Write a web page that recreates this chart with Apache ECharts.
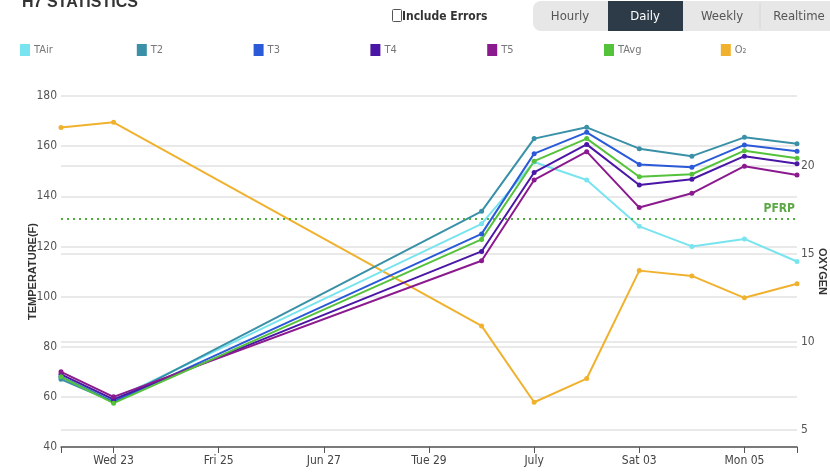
<!DOCTYPE html>
<html>
<head>
<meta charset="utf-8">
<title>H7 Statistics</title>
<script src="https://cdn.jsdelivr.net/npm/echarts@6/dist/echarts.min.js"></script>
<style>
  html, body { margin: 0; padding: 0; background: #fff; }
  #chart { width: 830px; height: 475px; }
</style>
</head>
<body>
<div id="chart"></div>
<script>
// daily readings
const categories = ['Tue 22', 'Wed 23', 'Thu 24', 'Fri 25', 'Sat 26', 'Jun 27', 'Mon 28', 'Tue 29',
  'Wed 30', 'July', 'Fri 02', 'Sat 03', 'Sun 04', 'Mon 05', 'Tue 06'];
const tAir = [68, 59, null, null, null, null, null, null, 129, 153.7, 146.5, 128, 120, 123, 114];
const t2 = [67, 58, null, null, null, null, null, null, 134, 163, 167.5, 159, 156, 163.5, 161];
const t3 = [68, 58, null, null, null, null, null, null, 125, 157, 165.5, 152.7, 151.6, 160.5, 158];
const t4 = [69, 59, null, null, null, null, null, null, 118, 149.5, 160.7, 144.5, 146.8, 156, 153];
const t5 = [70, 60, null, null, null, null, null, null, 114.3, 146.5, 157.8, 135.5, 141.2, 152, 148.5];
const tAvg = [68, 57.5, null, null, null, null, null, null, 122.8, 154, 163, 147.8, 148.8, 158.2, 155.2];
const o2 = [22.2, 22.5, null, null, null, null, null, null, 10.9, 6.55, 7.9, 14.05, 13.75, 12.5, 13.3];
const pfrp = 131;
const oxygenTicks = [5, 10, 15, 20];

const narrow = '"Liberation Sans Narrow", "DejaVu Sans Condensed", sans-serif';

const seriesDefs = [
  { name: 'TAir', data: tAir, color: '#78e4ef' },
  { name: 'T2', data: t2, color: '#3a91a7' },
  { name: 'T3', data: t3, color: '#2a5ad8' },
  { name: 'T4', data: t4, color: '#4a16a6' },
  { name: 'T5', data: t5, color: '#8b1a8e' },
  { name: 'TAvg', data: tAvg, color: '#55c23c' },
  { name: 'O₂', data: o2, color: '#f0b22e', right: true }
];

const myChart = echarts.init(document.getElementById('chart'));

const series = seriesDefs.map(function (s) {
  const item = {
    name: s.name,
    type: 'line',
    data: s.data,
    yAxisIndex: s.right ? 1 : 0,
    connectNulls: true,
    symbol: 'circle',
    symbolSize: 5,
    color: s.color,
    lineStyle: { width: 2, color: s.color },
    z: s.right ? 1 : 2
  };
  if (s.name === 'TAvg') {
    item.markLine = {
      silent: true,
      symbol: 'none',
      data: [{ yAxis: pfrp }],
      lineStyle: { color: '#4fae3c', type: [2, 4], width: 2 },
      label: {
        formatter: 'PFRP',
        position: 'insideEndTop',
        color: '#5aa846',
        fontWeight: 'bold',
        fontSize: 12,
        fontFamily: narrow,
        distance: [2, 4]
      }
    };
  }
  return item;
});

const legends = seriesDefs.map(function (s, i) {
  return {
    data: [s.name],
    left: 20 + i * 116.8,
    top: 44,
    icon: 'rect',
    itemWidth: 10,
    itemHeight: 12,
    padding: 0,
    textStyle: { color: '#777', fontSize: 11, fontFamily: narrow, padding: [0, 0, 0, -1] }
  };
});

const option = {
  animation: false,
  legend: legends,
  grid: { left: 61, right: 33, top: 96, bottom: 28, outerBoundsMode: 'none', containLabel: false },
  xAxis: {
    type: 'category',
    boundaryGap: false,
    data: categories,
    axisLine: { lineStyle: { color: '#555', width: 1.5 } },
    axisTick: {
      length: 6,
      interval: function (i) { return i % 2 === 1 || i === 0 || i === categories.length - 1; },
      lineStyle: { color: '#555' }
    },
    axisLabel: {
      interval: function (i) { return i % 2 === 1; },
      color: '#444',
      fontSize: 12,
      fontFamily: narrow,
      margin: 8
    }
  },
  yAxis: [
    {
      type: 'value',
      min: 40,
      max: 180,
      interval: 20,
      name: 'TEMPERATURE(F)',
      nameLocation: 'middle',
      nameRotate: 90,
      nameGap: 23,
      nameMoveOverlap: false,
      nameTextStyle: { color: '#333', fontWeight: 'bold', fontSize: 11, fontFamily: 'sans-serif' },
      axisLine: { show: false },
      axisTick: { show: false },
      axisLabel: { color: '#555', fontSize: 12, fontFamily: narrow, margin: 4 },
      splitLine: { lineStyle: { color: '#e2e2e2', width: 1.5 } }
    },
    {
      type: 'value',
      position: 'right',
      min: 4,
      max: 24,
      name: 'OXYGEN',
      nameLocation: 'middle',
      nameRotate: -90,
      nameGap: 20,
      nameMoveOverlap: false,
      nameTextStyle: { color: '#333', fontWeight: 'bold', fontSize: 11, fontFamily: 'sans-serif' },
      axisLine: { show: false },
      axisTick: { show: false, customValues: oxygenTicks },
      axisLabel: { customValues: oxygenTicks, color: '#555', fontSize: 12, fontFamily: narrow, margin: 4 },
      splitLine: { lineStyle: { color: '#e2e2e2', width: 1.5 } }
    }
  ],
  graphic: [
    { type: 'text', left: 22, top: -5, style: { text: 'H7 STATISTICS', font: 'bold 16px sans-serif', fill: '#333' } },
    { type: 'rect', shape: { x: 392.5, y: 9.5, width: 9, height: 12, r: 1 }, style: { fill: '#fff', stroke: '#555', lineWidth: 1 } },
    { type: 'text', x: 402, y: 17, style: { text: 'Include Errors', font: 'bold 12px ' + narrow, fill: '#333', verticalAlign: 'middle' } },
    { type: 'rect', shape: { x: 533, y: 1, width: 310, height: 30, r: 8 }, style: { fill: '#e7e7e7' } },
    { type: 'rect', shape: { x: 608, y: 1, width: 75, height: 30 }, style: { fill: '#2d3b48' } },
    { type: 'line', shape: { x1: 760, y1: 3, x2: 760, y2: 29 }, style: { stroke: '#d6d6d6', lineWidth: 1 } },
    { type: 'text', x: 570, y: 17, style: { text: 'Hourly', font: '13px ' + narrow, fill: '#555', align: 'center', verticalAlign: 'middle' } },
    { type: 'text', x: 645, y: 17, style: { text: 'Daily', font: '13px ' + narrow, fill: '#fff', align: 'center', verticalAlign: 'middle' } },
    { type: 'text', x: 722, y: 17, style: { text: 'Weekly', font: '13px ' + narrow, fill: '#555', align: 'center', verticalAlign: 'middle' } },
    { type: 'text', x: 799, y: 17, style: { text: 'Realtime', font: '13px ' + narrow, fill: '#555', align: 'center', verticalAlign: 'middle' } }
  ],
  series: series
};

myChart.setOption(option);

window.addEventListener('resize', function () {
  myChart.resize();
});
</script>
</body>
</html>
